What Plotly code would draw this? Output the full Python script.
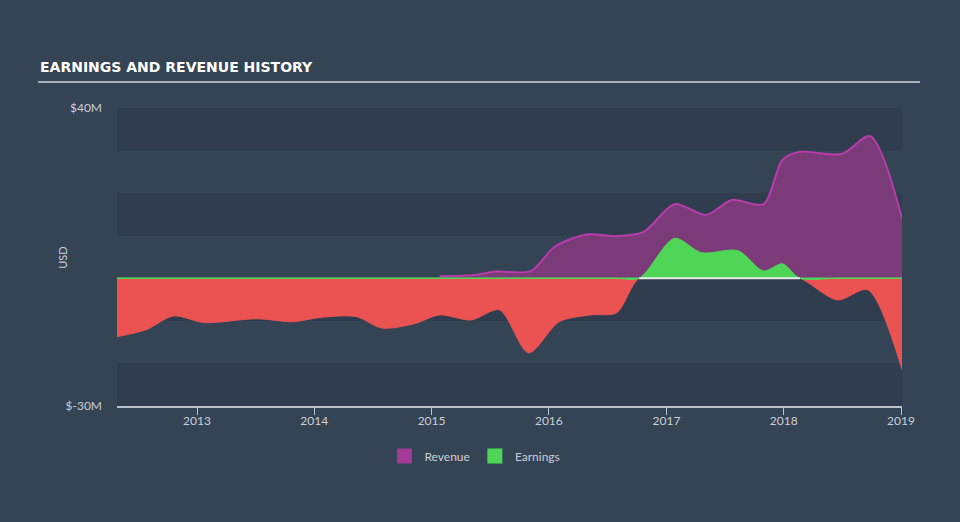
import plotly.graph_objects as go

# ---------------- data ----------------
earn_dates = ["2012-04-27", "2012-07-26", "2012-10-19", "2013-01-24", "2013-07-05",
              "2013-10-27", "2014-01-19", "2014-05-11", "2014-07-31", "2014-11-07",
              "2015-01-26", "2015-05-04", "2015-07-31", "2015-10-30", "2016-02-02",
              "2016-05-10", "2016-07-30", "2016-10-08", "2017-01-26", "2017-04-20",
              "2017-08-11", "2017-10-30", "2017-12-28", "2018-02-20", "2018-06-17",
              "2018-09-20", "2019-01-04"]
earnings = [-13.7, -12.1, -8.85, -10.4, -9.5,
            -10.2, -9.2, -9.0, -11.7, -10.7,
            -8.6, -9.8, -7.4, -17.5, -10.2,
            -8.6, -8.1, 0.0, 9.4, 6.0,
            6.5, 1.7, 3.4, 0.0, -5.1,
            -2.7, -21.4]

rev_dates = ["2015-01-26", "2015-05-18", "2015-07-19", "2015-11-06", "2016-01-19",
             "2016-04-27", "2016-07-30", "2016-10-22", "2017-01-26", "2017-05-05",
             "2017-07-24", "2017-10-30", "2017-12-28", "2018-02-20", "2018-07-01",
             "2018-09-27", "2019-01-04"]
revenue = [0.5, 0.8, 1.6, 1.7, 7.4,
           10.3, 9.9, 10.9, 17.4, 14.9,
           18.4, 17.4, 27.8, 29.7, 29.2,
           33.4, 14.1]

y_ticks = [-30, 40]
y_tick_labels = ["$-30M", "$40M"]
x_range = ["2012-04-27", "2019-01-04"]
title = "EARNINGS AND REVENUE HISTORY"

# ---------------- styling ----------------
BG = "#354455"
PLOT_BG = "#354455"
BAND = "#2f3d4e"
REV_LINE = "#b93cac"
REV_FILL = "#7b3a78"
GREEN = "#50d656"
RED = "#eb5353"
TXT = "#c9ced6"

earn_pos = [max(v, 0.0) for v in earnings]
earn_neg = [min(v, 0.0) for v in earnings]
pos_zero_dates = [d for d, v in zip(earn_dates, earnings) if v == 0.0]

fig = go.Figure()

fig.add_trace(go.Scatter(
    x=rev_dates, y=revenue, mode="lines", line=dict(color=REV_LINE, width=2, shape="spline", smoothing=0.8),
    fill="tozeroy", fillcolor=REV_FILL, showlegend=False, hoverinfo="skip"))

fig.add_trace(go.Scatter(
    x=earn_dates, y=earn_neg, mode="lines", line=dict(color=RED, width=1, shape="spline", smoothing=0.8),
    fill="tozeroy", fillcolor=RED, showlegend=False, hoverinfo="skip"))

fig.add_trace(go.Scatter(
    x=earn_dates, y=earn_pos, mode="lines", line=dict(color=GREEN, width=1, shape="spline", smoothing=0.8),
    fill="tozeroy", fillcolor=GREEN, showlegend=False, hoverinfo="skip"))

# zero line (green) and white segment under positive earnings
fig.add_trace(go.Scatter(
    x=x_range, y=[0, 0], mode="lines", line=dict(color=GREEN, width=1.5),
    showlegend=False, hoverinfo="skip"))
fig.add_trace(go.Scatter(
    x=pos_zero_dates, y=[0] * len(pos_zero_dates), mode="lines", line=dict(color="#e8ecef", width=2),
    showlegend=False, hoverinfo="skip"))

# legend entries
fig.add_trace(go.Scatter(x=[None], y=[None], mode="markers", name="Revenue",
                         marker=dict(symbol="square", size=15, color="#a23a96")))
fig.add_trace(go.Scatter(x=[None], y=[None], mode="markers", name="Earnings",
                         marker=dict(symbol="square", size=15, color=GREEN)))

# alternating horizontal bands every 10M
for lo in range(-30, 40, 20):
    fig.add_shape(type="rect", xref="paper", yref="y", x0=0, x1=1, y0=lo, y1=lo + 10,
                  fillcolor=BAND, line=dict(width=0), layer="below")

# title underline
fig.add_shape(type="line", xref="paper", yref="paper", x0=-0.1006, x1=1.0229, y0=1.087, y1=1.087,
              line=dict(color="#a9b1ba", width=2))

fig.add_annotation(text=title, xref="paper", yref="paper", x=-0.1006, y=1.136,
                   xanchor="left", yanchor="middle", showarrow=False,
                   font=dict(family="DejaVu Sans, sans-serif",
                             size=14, color="#ffffff", weight="bold"))
fig.add_annotation(text="USD", xref="paper", yref="paper", x=-0.069, y=0.497,
                   xanchor="center", yanchor="middle", showarrow=False, textangle=-90,
                   font=dict(family="Lato, sans-serif", size=11, color=TXT))

fig.update_layout(
    width=960, height=522,
    paper_bgcolor=BG, plot_bgcolor=PLOT_BG,
    margin=dict(l=117, r=58, t=108, b=116),
    font=dict(family="Lato, sans-serif", size=12, color=TXT),
    legend=dict(orientation="h", x=0.456, xanchor="center", y=-0.168, yanchor="middle",
                font=dict(size=12, color=TXT), bgcolor="rgba(0,0,0,0)", itemclick=False),
    xaxis=dict(type="date", range=x_range, showgrid=False, zeroline=False,
               showline=True, linecolor="#b9c3cf", linewidth=1.5,
               ticks="outside", ticklen=7, tickcolor="#b9c3cf",
               dtick="M12", tick0="2013-01-01", tickformat="%Y",
               ticklabelstandoff=-4,
               tickfont=dict(size=12, color=TXT)),
    yaxis=dict(range=[-30, 40], showgrid=False, zeroline=False, showline=False,
               tickvals=y_ticks, ticktext=y_tick_labels, ticks="",
               ticklabelstandoff=14, tickfont=dict(size=12, color=TXT)),
)

fig.write_html("out.html", config={"displayModeBar": False})

# remove the default page margin so the figure fills the window exactly
css = "<style>html,body{margin:0;padding:0;overflow:hidden;background:#354455;}</style>"
with open("out.html", "r", encoding="utf-8") as f:
    html = f.read()
html = html.replace("<head>", "<head>" + css, 1)
with open("out.html", "w", encoding="utf-8") as f:
    f.write(html)
